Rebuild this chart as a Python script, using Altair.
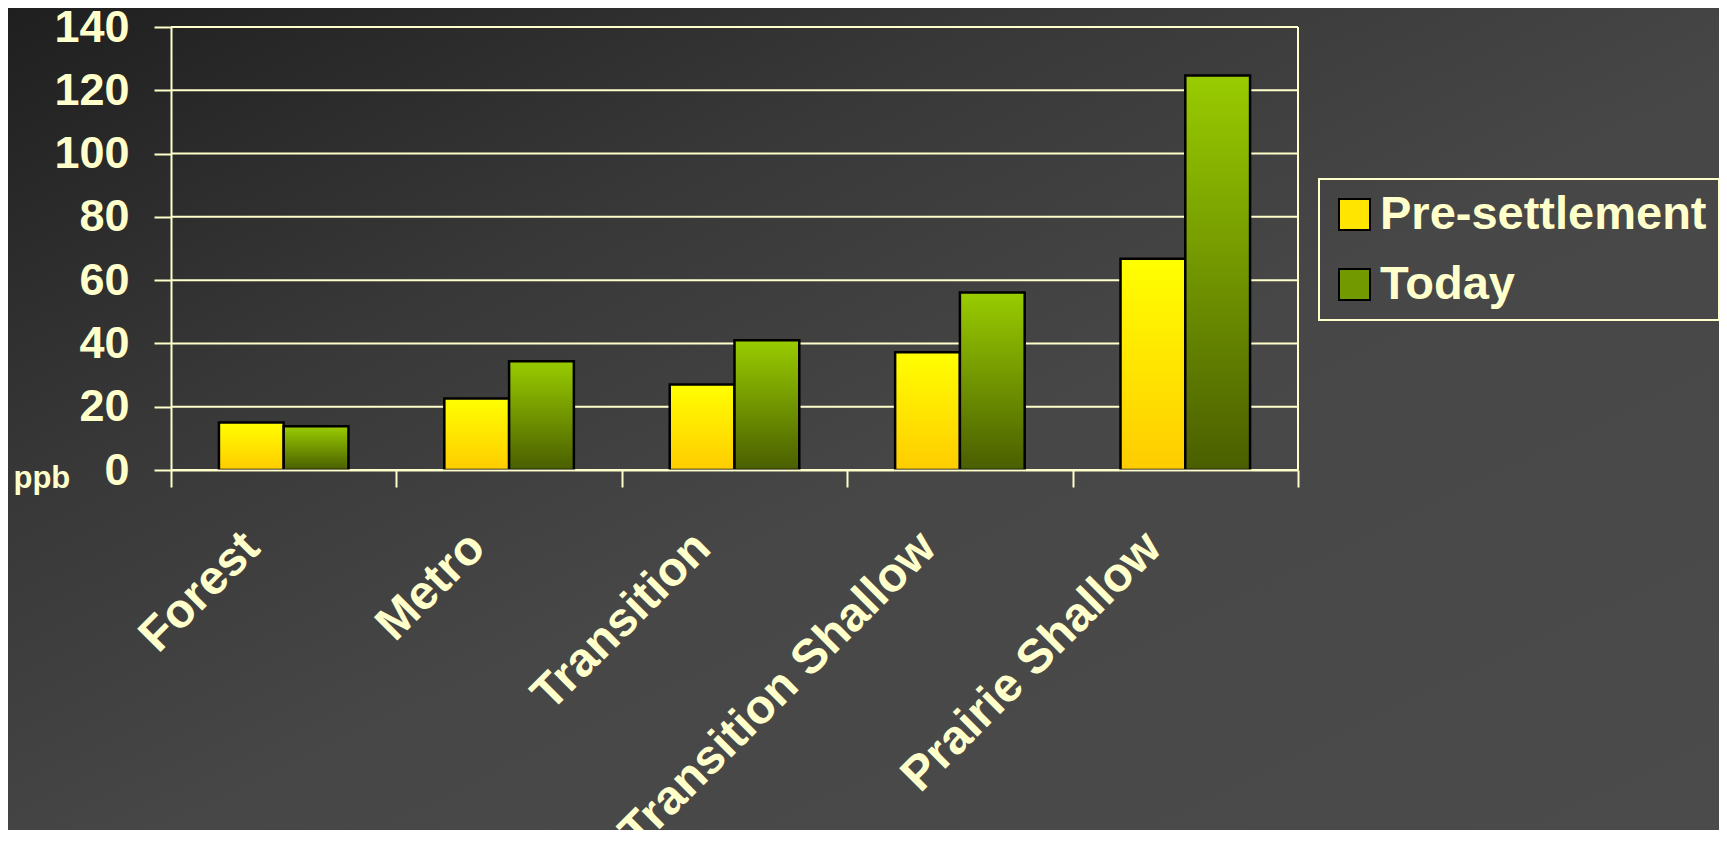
import altair as alt
import pandas as pd

categories = ["Forest", "Metro", "Transition", "Transition Shallow", "Prairie Shallow"]
series = ["Pre-settlement", "Today"]
pre_settlement = [15.0, 22.6, 27.0, 37.2, 66.8]
today = [13.8, 34.4, 41.0, 56.1, 124.7]
y_ticks = [0, 20, 40, 60, 80, 100, 120, 140]

rows = []
for c, a, b in zip(categories, pre_settlement, today):
    rows.append({"category": c, "series": series[0], "value": a})
    rows.append({"category": c, "series": series[1], "value": b})
df = pd.DataFrame(rows)
grid_df = pd.DataFrame({"value": y_ticks})

CREAM = "#FFFFCC"
FONT = "Liberation Sans"

W, H = 1127, 443
PAD = {"left": 163, "top": 19, "right": 421, "bottom": 360}

bg_grad = alt.LinearGradient(
    gradient="linear", x1=0, y1=0, x2=1, y2=1,
    stops=[alt.GradientStop(color="#1f1f1f", offset=0),
           alt.GradientStop(color="#383838", offset=0.3),
           alt.GradientStop(color="#474747", offset=0.55),
           alt.GradientStop(color="#4b4b4b", offset=1)])
yellow_grad = alt.LinearGradient(
    gradient="linear", x1=0, y1=0, x2=0, y2=1,
    stops=[alt.GradientStop(color="#FFFF00", offset=0),
           alt.GradientStop(color="#FFCC00", offset=1)])
green_grad = alt.LinearGradient(
    gradient="linear", x1=0, y1=0, x2=0, y2=1,
    stops=[alt.GradientStop(color="#99CC00", offset=0),
           alt.GradientStop(color="#4A5E00", offset=1)])

background = alt.Chart(pd.DataFrame({"a": [0]})).mark_rect(fill=bg_grad).encode(
    x=alt.value(-PAD["left"]), x2=alt.value(W + PAD["right"]),
    y=alt.value(-PAD["top"]), y2=alt.value(H + PAD["bottom"]),
)

y_scale = alt.Scale(domain=[0, 140], nice=False)

x_enc = alt.X(
    "category:N", sort=categories, title=None,
    scale=alt.Scale(paddingInner=0, paddingOuter=0),
    axis=alt.Axis(
        labelAngle=-45, labelAlign="right", labelBaseline="middle",
        labelFont=FONT, labelFontWeight="bold", labelFontSize=48, labelColor=CREAM,
        labelPadding=53, labelOffset=-32, labelOverlap=False, labelFlush=False,
        labelBound=False, labelLimit=0,
        domainColor=CREAM, domainWidth=2,
        ticks=True, tickBand="extent", tickSize=17, tickColor=CREAM, tickWidth=2,
        grid=False, zindex=1,
    ),
)
xoff_enc = alt.XOffset(
    "series:N", sort=series,
    scale=alt.Scale(domain=series, paddingInner=0, paddingOuter=0.74),
)
y_axis = alt.Axis(
    values=y_ticks, title="ppb", titleAngle=0, titleAlign="left",
    titleBaseline="alphabetic", titleX=-158, titleY=460,
    titleFont=FONT, titleFontWeight="bold", titleFontSize=31, titleColor=CREAM,
    labelFont=FONT, labelFontWeight="bold", labelFontSize=45, labelColor=CREAM,
    labelPadding=25, tickSize=17, tickColor=CREAM, tickWidth=2,
    domainColor=CREAM, domainWidth=2,
    grid=False, zindex=1,
)
y_enc = alt.Y("value:Q", scale=y_scale, axis=y_axis)

grid_layer = alt.Chart(grid_df).mark_rule(color=CREAM, strokeWidth=2).encode(
    y=alt.Y("value:Q", scale=y_scale, axis=y_axis),
    x=alt.value(0), x2=alt.value(W),
)
right_border = alt.Chart(pd.DataFrame({"a": [0]})).mark_rule(color=CREAM, strokeWidth=2).encode(
    x=alt.value(W), y=alt.value(0), y2=alt.value(H),
)

base = alt.Chart(df).encode(x=x_enc, xOffset=xoff_enc, y=y_enc)

legend_layer = base.mark_bar(opacity=0).encode(
    color=alt.Color(
        "series:N", sort=series,
        scale=alt.Scale(domain=series, range=["#FFE500", "#739900"]),
        legend=alt.Legend(
            title=None, orient="none", legendX=1148, legendY=152,
            direction="vertical", padding=12,
            strokeColor=CREAM,
            symbolType="square", symbolSize=961, symbolOpacity=1,
            symbolStrokeColor="black", symbolStrokeWidth=2,
            labelFont=FONT, labelFontWeight="bold", labelFontSize=47,
            labelColor=CREAM, labelOffset=2, rowPadding=22, labelLimit=0,
        ),
    )
)

pre_layer = base.transform_filter(alt.datum.series == series[0]).mark_bar(
    fill=yellow_grad, stroke="black", strokeWidth=2.5
)
today_layer = base.transform_filter(alt.datum.series == series[1]).mark_bar(
    fill=green_grad, stroke="black", strokeWidth=2.5
)

chart = alt.layer(
    background, grid_layer, right_border, legend_layer, pre_layer, today_layer
).properties(
    width=W, height=H,
    autosize=alt.AutoSizeParams(type="none"),
    padding=PAD,
    background="#3c3c3c",
).configure_view(stroke=None).configure_legend(strokeWidth=2)

chart.save("out.html", embed_options={"renderer": "svg", "actions": False})
